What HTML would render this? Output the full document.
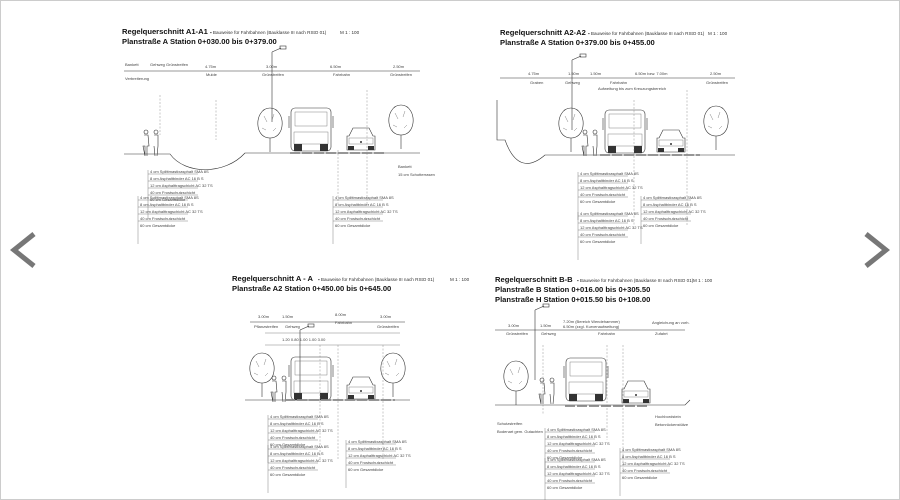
<!DOCTYPE html>
<html><head><meta charset="utf-8"><style>
html,body{margin:0;padding:0;background:#fff;}
svg{display:block;font-family:"Liberation Sans",sans-serif;}
.t1{font-size:7.6px;font-weight:bold;fill:#111}
.t2{font-size:4.6px;fill:#333}
.s{font-size:4px;fill:#444}
.l{stroke:#333;stroke-width:0.6;fill:none}
.lt{stroke:#666;stroke-width:0.4;fill:none}
.d{stroke:#777;stroke-width:0.4;stroke-dasharray:2 1.5;fill:none}
.tx{stroke:#888;stroke-width:1.8;stroke-dasharray:10 2}
</style></head><body>
<svg width="900" height="500" viewBox="0 0 900 500">
<rect x="0.5" y="0.5" width="899" height="499" fill="#fff" stroke="#ccc"/>
<polyline points="34,234 14,250 34,266" fill="none" stroke="#777" stroke-width="5"/>
<polyline points="866,234 886,250 866,266" fill="none" stroke="#777" stroke-width="5"/>

<defs>
<g id="bus"><rect x="0" y="0" width="40" height="43" rx="4" class="l" fill="#fff"/><rect x="4" y="4" width="32" height="14" class="lt"/><rect x="3" y="24" width="34" height="12" class="lt"/><rect x="3" y="36" width="8" height="7" fill="#333"/><rect x="29" y="36" width="8" height="7" fill="#333"/><line x1="-2" y1="8" x2="-2" y2="20" class="l"/><line x1="42" y1="8" x2="42" y2="20" class="l"/></g>
<g id="car"><path d="M4,8 L8,0 L24,0 L28,8 L30,8 L30,22 L2,22 L2,8 Z" class="l" fill="#fff"/><rect x="4" y="10" width="24" height="6" class="lt"/><rect x="3" y="18" width="6" height="4" fill="#333"/><rect x="23" y="18" width="6" height="4" fill="#333"/><circle cx="16" cy="14" r="1" fill="#333"/></g>
<g id="tree"><path d="M0,-32 C-9,-32 -13,-22 -12,-14 C-11,-6 -6,-2 0,-2 C6,-2 11,-6 12,-14 C13,-22 9,-32 0,-32 Z" class="l"/><line x1="0" y1="-2" x2="0" y2="12" class="l"/><path d="M-6,-24 L-3,-18 M4,-26 L2,-20 M-8,-12 L-4,-10 M6,-12 L3,-9" class="lt"/></g>
<g id="lamp"><line x1="0" y1="0" x2="0" y2="70" class="l"/><line x1="0" y1="0" x2="9" y2="-4" class="l"/><rect x="8" y="-6" width="6" height="3" class="l"/></g>
<g id="ppl"><circle cx="0" cy="0" r="2" class="l"/><path d="M-2,3 L2,3 L3,14 L1,14 L1,24 M-1,24 L-1,14 L-3,14 Z" class="l"/><circle cx="10" cy="0" r="2" class="l"/><path d="M8,3 L12,3 L12,14 L11,24 M9,24 L8,14 Z" class="l"/></g>
<g id="notes"><line x1="0" y1="0" x2="0" y2="48" class="lt"/><line x1="0" y1="4" x2="50" y2="4" class="lt"/><line x1="0" y1="11" x2="50" y2="11" class="lt"/><line x1="0" y1="18" x2="50" y2="18" class="lt"/><line x1="0" y1="25" x2="50" y2="25" class="lt"/><text x="2" y="3" class="s">4 cm Splittmastixasphalt SMA 8S</text><text x="2" y="10" class="s">8 cm Asphaltbinder AC 16 B S</text><text x="2" y="17" class="s">12 cm Asphalttragschicht AC 32 TS</text><text x="2" y="24" class="s">40 cm Frostschutzschicht</text><text x="2" y="31" class="s">60 cm Gesamtdicke</text></g>
</defs>

<!-- Panel 1 -->
<text x="122" y="34" class="t1">Regelquerschnitt A1-A1</text><text x="210" y="34" class="t2">▪ Bauweise für Fahrbahnen (Bauklasse III nach RStO 01)</text><text x="340" y="34" class="t2">M 1 : 100</text>
<text x="122" y="44" class="t1">Planstraße A Station 0+030.00 bis 0+379.00</text>
<line x1="124" y1="71" x2="420" y2="71" class="l"/>
<g class="s"><text x="125" y="66">Bankett</text><text x="150" y="66">Gehweg Grünstreifen</text><text x="205" y="68">4.75m</text><text x="266" y="68">3.00m</text><text x="330" y="68">6.50m</text><text x="393" y="68">2.50m</text><text x="125" y="80">Verbreiterung</text><text x="206" y="76">Mulde</text><text x="262" y="76">Grünstreifen</text><text x="333" y="76">Fahrbahn</text><text x="390" y="76">Grünstreifen</text></g>
<use href="#lamp" x="272" y="52"/>
<use href="#tree" x="270" y="140"/><use href="#tree" x="401" y="137"/>
<use href="#bus" x="291" y="108"/><use href="#car" x="345" y="128"/>
<use href="#ppl" x="146" y="132"/>
<path d="M124,154 L170,154 C185,175 225,175 245,153 L420,153" class="l"/>
<line x1="290" y1="153" x2="385" y2="153" class="tx"/>
<line x1="160" y1="95" x2="160" y2="135" class="d"/><line x1="216" y1="100" x2="216" y2="140" class="d"/><line x1="367" y1="90" x2="367" y2="205" class="d"/><line x1="338" y1="150" x2="338" y2="205" class="d"/>
<use href="#notes" x="148" y="170"/><use href="#notes" x="333" y="196"/><use href="#notes" x="138" y="196"/>
<g class="s"><text x="398" y="168">Bankett</text><text x="398" y="176">15 cm Schotterrasen</text></g>

<!-- Panel 2 -->
<text x="500" y="35" class="t1">Regelquerschnitt A2-A2</text><text x="588" y="35" class="t2">▪ Bauweise für Fahrbahnen (Bauklasse III nach RStO 01)</text><text x="708" y="35" class="t2">M 1 : 100</text>
<text x="500" y="45" class="t1">Planstraße A Station 0+379.00 bis 0+455.00</text>
<line x1="500" y1="78" x2="735" y2="78" class="l"/>
<g class="s"><text x="528" y="75">4.75m</text><text x="568" y="75">1.50m</text><text x="590" y="75">1.50m</text><text x="635" y="75">6.50m bzw. 7.00m</text><text x="710" y="75">2.50m</text><text x="530" y="84">Graben</text><text x="565" y="84">Gehweg</text><text x="610" y="84">Fahrbahn</text><text x="598" y="90">Aufweitung bis zum Kreuzungsbereich</text><text x="706" y="84">Grünstreifen</text></g>
<use href="#lamp" x="572" y="60"/>
<use href="#tree" x="571" y="140"/><use href="#tree" x="716" y="138"/>
<use href="#bus" x="605" y="110"/><use href="#car" x="655" y="130"/>
<use href="#ppl" x="585" y="132"/>
<path d="M497,100 L497,140 L505,140 C515,168 530,168 545,155 L735,155" class="l"/>
<line x1="600" y1="155" x2="700" y2="155" class="tx"/>
<line x1="634" y1="100" x2="634" y2="225" class="d"/><line x1="687" y1="90" x2="687" y2="225" class="d"/>
<use href="#notes" x="578" y="172"/><use href="#notes" x="641" y="196"/><use href="#notes" x="578" y="212"/>

<!-- Panel 3 -->
<text x="232" y="281" class="t1">Regelquerschnitt A - A</text><text x="318" y="281" class="t2">▪ Bauweise für Fahrbahnen (Bauklasse III nach RStO 01)</text><text x="450" y="281" class="t2">M 1 : 100</text>
<text x="232" y="291" class="t1">Planstraße A2 Station 0+450.00 bis 0+645.00</text>
<line x1="250" y1="322" x2="405" y2="322" class="l"/><line x1="265" y1="333" x2="400" y2="333" class="lt"/><line x1="265" y1="345" x2="400" y2="345" class="lt"/>
<g class="s"><text x="258" y="318">3.00m</text><text x="282" y="318">1.50m</text><text x="335" y="316">8.00m</text><text x="380" y="318">3.00m</text><text x="254" y="328">Pflanzstreifen</text><text x="285" y="328">Gehweg</text><text x="335" y="324">Fahrbahn</text><text x="377" y="328">Grünstreifen</text><text x="282" y="341">1.20 0.80 1.00 1.00 3.00</text></g>
<use href="#lamp" x="300" y="330"/>
<use href="#tree" x="262" y="385"/><use href="#tree" x="393" y="385"/>
<use href="#bus" x="291" y="357"/><use href="#car" x="345" y="377"/>
<use href="#ppl" x="274" y="378"/>
<path d="M245,400 L410,400" class="l"/>
<line x1="285" y1="400" x2="395" y2="400" class="tx"/>
<line x1="320" y1="345" x2="320" y2="460" class="d"/><line x1="338" y1="345" x2="338" y2="460" class="d"/><line x1="383" y1="345" x2="383" y2="460" class="d"/>
<use href="#notes" x="268" y="415"/><use href="#notes" x="346" y="440"/><use href="#notes" x="268" y="445"/>

<!-- Panel 4 -->
<text x="495" y="282" class="t1">Regelquerschnitt B-B</text><text x="577" y="282" class="t2">▪ Bauweise für Fahrbahnen (Bauklasse III nach RStO 01)</text><text x="693" y="282" class="t2">M 1 : 100</text>
<text x="495" y="292" class="t1">Planstraße B Station 0+016.00 bis 0+305.50</text>
<text x="495" y="302" class="t1">Planstraße H Station 0+015.50 bis 0+108.00</text>
<line x1="495" y1="330" x2="685" y2="330" class="l"/>
<g class="s"><text x="508" y="327">3.00m</text><text x="540" y="327">1.50m</text><text x="563" y="323">7.20m (Bereich Wendehammer)</text><text x="563" y="328">6.50m (zzgl. Kurvenaufweitung)</text><text x="652" y="324">Angleichung an vorh.</text><text x="506" y="335">Grünstreifen</text><text x="541" y="335">Gehweg</text><text x="598" y="335">Fahrbahn</text><text x="655" y="335">Zufahrt</text></g>
<use href="#lamp" x="535" y="310"/>
<use href="#tree" x="516" y="393"/>
<use href="#bus" x="566" y="358"/><use href="#car" x="620" y="381"/>
<use href="#ppl" x="542" y="380"/>
<path d="M495,405 L685,405 L690,400" class="l"/>
<line x1="565" y1="406" x2="648" y2="406" class="tx"/>
<line x1="607" y1="345" x2="607" y2="440" class="d"/><line x1="623" y1="345" x2="623" y2="470" class="d"/><line x1="543" y1="345" x2="543" y2="415" class="d"/>
<use href="#notes" x="545" y="428"/><use href="#notes" x="620" y="448"/><use href="#notes" x="545" y="458"/>
<g class="s"><text x="497" y="425">Schutzstreifen</text><text x="497" y="433">Bodenart gem. Gutachten</text><text x="655" y="418">Hochbordstein</text><text x="655" y="426">Betonrückenstütze</text></g>
</svg>
</body></html>
